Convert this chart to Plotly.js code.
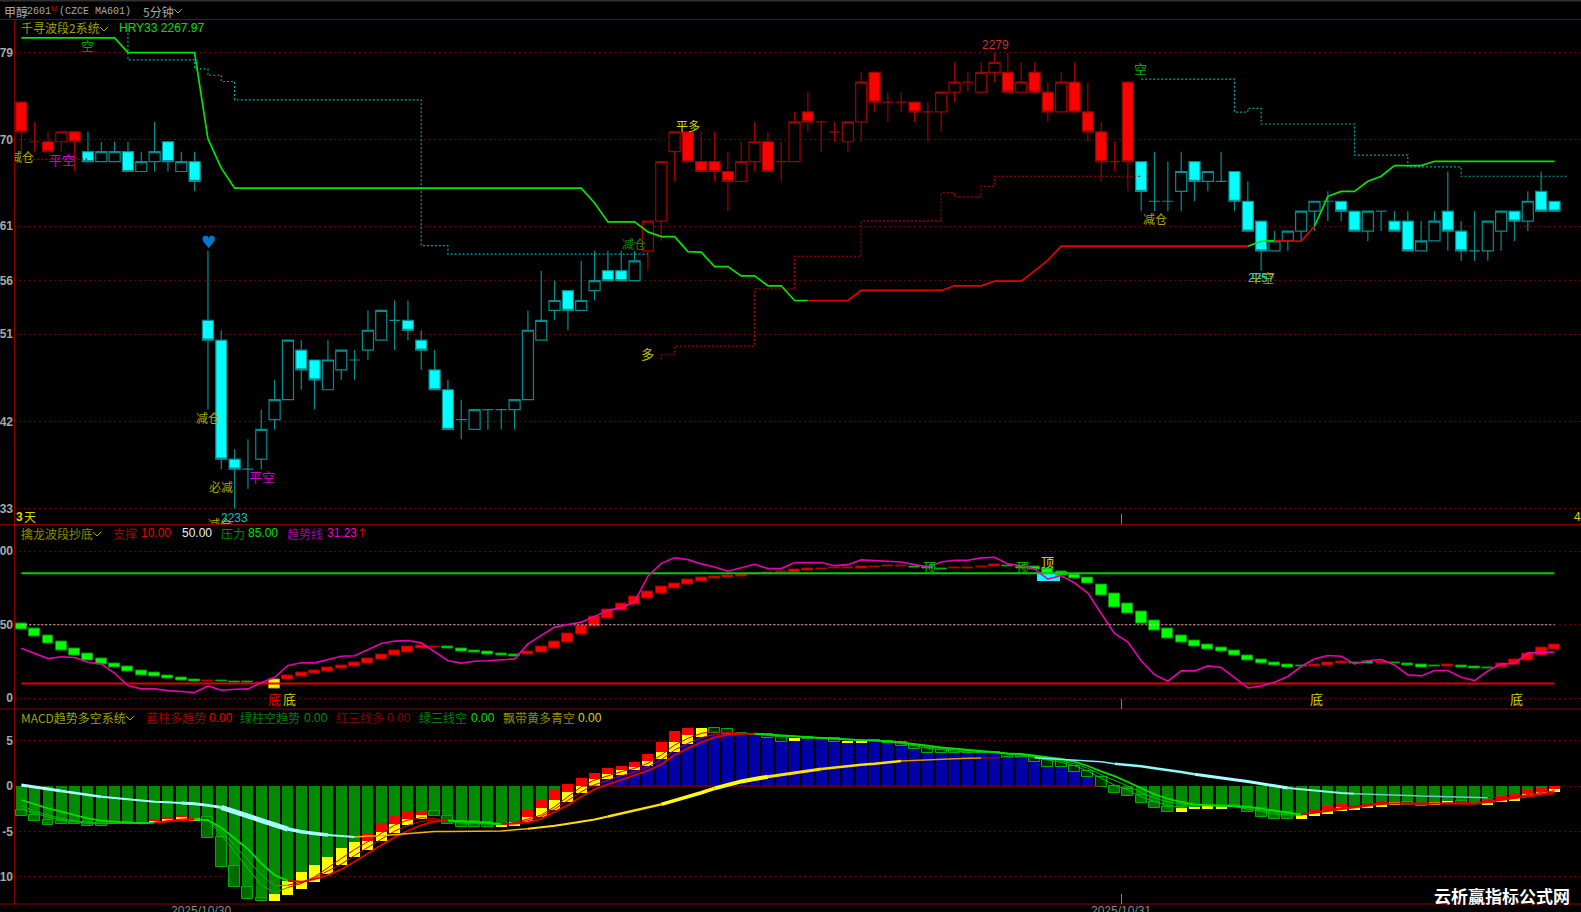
<!DOCTYPE html>
<html><head><meta charset="utf-8">
<style>html,body{margin:0;padding:0;background:#000;overflow:hidden}#c{width:1581px;height:912px}</style>
<script src="https://cdn.plot.ly/plotly-3.0.1.min.js"></script></head>
<body><div id="c"></div>
<script>
// ---------- candles (index 0..115, 5 minute bars) ----------
const open=[2274,2270,2270,2270,2271,2269,2268,2268,2269,2267,2268,2270,2267,2268,2252,2250,2238,2237,2238,2242,2244,2249,2248,2245,2247,2248,2249,2250,2252,2252,2250,2247,2245,2242,2241,2243,2243,2243,2244,2250,2253,2255,2253,2255,2257,2257,2256,2259,2262,2269,2271,2268,2268,2267,2266,2268,2270,2268,2268,2273,2272,2271,2270,2272,2277,2274,2274,2274,2273,2273,2275,2276,2275,2277,2277,2275,2277,2275,2273,2276,2273,2271,2268,2276,2268,2264,2264,2265,2268,2266,2266,2267,2264,2262,2259,2260,2261,2263,2264,2264,2263,2261,2263,2262,2262,2259,2260,2263,2261,2259,2259,2261,2263,2262,2265,2264];
const close=[2271,2270,2269,2271,2270,2268,2269,2269,2267,2268,2269,2268,2268,2266,2250,2238,2237,2237,2241,2244,2250,2247,2246,2248,2249,2248,2251,2253,2252,2251,2249,2245,2241,2242,2243,2243,2243,2244,2251,2252,2254,2253,2254,2256,2256,2256,2258,2262,2268,2271,2268,2267,2267,2266,2268,2270,2267,2268,2272,2272,2272,2271,2272,2276,2274,2274,2274,2273,2273,2275,2276,2276,2277,2278,2275,2276,2275,2273,2276,2273,2271,2268,2268,2268,2265,2264,2264,2267,2266,2267,2266,2264,2261,2259,2260,2261,2263,2264,2264,2263,2261,2263,2263,2261,2259,2260,2262,2261,2259,2259,2262,2263,2262,2264,2263,2263];
const high=[2274,2272,2271,2271,2271,2271,2270,2270,2270,2269,2272,2270,2269,2269,2259,2251,2239,2240,2243,2246,2250,2250,2248,2250,2249,2249,2253,2253,2254,2254,2251,2249,2246,2244,2243,2243,2243,2244,2253,2257,2256,2255,2258,2259,2259,2259,2259,2262,2268,2271,2271,2271,2271,2269,2270,2272,2271,2270,2273,2275,2272,2272,2272,2277,2277,2275,2275,2274,2274,2275,2278,2277,2278,2279,2279,2278,2278,2276,2277,2278,2276,2272,2270,2276,2268,2269,2268,2269,2268,2267,2269,2267,2266,2262,2261,2261,2263,2264,2265,2264,2263,2263,2263,2263,2263,2262,2263,2267,2262,2263,2262,2263,2263,2265,2267,2264];
const low=[2269,2269,2269,2269,2267,2268,2268,2268,2267,2267,2267,2267,2267,2265,2243,2237,2233,2235,2237,2241,2244,2245,2243,2245,2246,2246,2248,2250,2249,2250,2247,2245,2241,2240,2241,2241,2241,2241,2244,2250,2252,2251,2253,2254,2256,2256,2256,2257,2260,2266,2268,2267,2266,2263,2266,2267,2267,2266,2268,2271,2269,2270,2269,2270,2273,2272,2273,2272,2270,2271,2274,2275,2275,2276,2275,2275,2275,2272,2273,2273,2270,2266,2267,2265,2263,2263,2263,2263,2264,2265,2266,2263,2261,2257,2259,2259,2260,2261,2262,2262,2261,2260,2261,2261,2259,2259,2260,2259,2258,2258,2258,2259,2260,2261,2263,2263];
// which candles are in the red regime; all others are cyan
const redCandleRuns=[[0,4],[47,83]];
// ---------- HRY33 trend line ----------
const hry=[2280.46,2280.46,2280.46,2280.46,2280.46,2280.46,2280.46,2280.46,2278.98,2278.98,2278.98,2278.98,2278.98,2278.98,2270.29,2267.34,2265.32,2265.32,2265.32,2265.32,2265.32,2265.32,2265.32,2265.32,2265.32,2265.32,2265.32,2265.32,2265.32,2265.32,2265.32,2265.32,2265.32,2265.32,2265.32,2265.32,2265.32,2265.32,2265.32,2265.32,2265.32,2265.32,2265.32,2263.83,2261.92,2261.92,2261.92,2260.91,2260.44,2260.44,2258.93,2258.87,2257.42,2257.42,2256.48,2256.48,2255.48,2255.48,2254,2254,2254,2254,2254,2255.01,2255.01,2255.01,2255.01,2255.01,2255.01,2255.01,2255.48,2255.48,2255.48,2255.95,2255.95,2255.95,2256.99,2258.06,2259.47,2259.47,2259.47,2259.47,2259.47,2259.47,2259.47,2259.47,2259.47,2259.47,2259.47,2259.47,2259.47,2259.47,2259.47,2259.97,2260.04,2259.97,2259.97,2261.48,2264.5,2265,2265,2266.01,2266.52,2267.59,2267.59,2267.59,2268.03,2268.03,2268.03,2268.03,2268.03,2268.03,2268.03,2268.03,2268.03,2268.03];
const hryRedRuns=[[59,92],[94,97]];
const hryGreenRuns=[[0,59],[92,94],[97,115]];
// ---------- dotted stop lines ----------
const stopCyanA=[2281.4,2278.25,2278.25,2278.25,2278.25,2278.25,2277.34,2276.7,2276.07,2274.22,2274.22,2274.22,2274.22,2274.22,2274.22,2274.22,2274.22,2274.22,2274.22,2274.22,2274.22,2274.22,2274.22,2259.52,2259.52,2258.68,2258.68,2258.68,2258.68,2258.68,2258.68,2258.68,2258.68,2258.68,2258.68,2258.68,2258.68,2258.68,2258.68,2258.68];
const stopCyanAStart=8;
const stopCyanB=[2276.32,2276.32,2276.32,2276.32,2276.32,2276.32,2276.32,2276.32,2272.99,2273.36,2271.79,2271.79,2271.79,2271.79,2271.79,2271.79,2271.79,2268.66,2268.66,2268.66,2268.66,2267.46,2267.46,2267.46,2267.46,2266.52,2266.52,2266.52,2266.52,2266.52,2266.52,2266.52,2266.52];
const stopCyanBStart=84;
const stopRedA=[2268.25,2268.25,2268.25,2268.25,2268.25,2268.25];
const stopRedAStart=0;
const stopRedB=[2248.06,2248.53,2249.4,2249.4,2249.4,2249.4,2249.4,2249.4,2255.17,2255.17,2255.17,2258.46,2258.46,2258.46,2258.46,2258.46,2261.99,2261.99,2261.99,2261.99,2261.99,2261.99,2264.84,2264.44,2264.44,2265.51,2266.52,2266.52,2266.52,2266.52,2266.52,2266.52,2266.52,2266.52,2266.52,2266.52,2266.52];
const stopRedBStart=48;
// ---------- oscillator panel ----------
const rsiHi=[50.7,47.7,43,38.4,34.1,30.2,27.3,23.9,21.6,19.1,17.3,15.2,13.9,12.5,12.3,12,11.6,11.1,10.9,12.5,15.5,17.7,19.1,20.9,22.5,24.5,26.8,30,32.7,35,35.9,35.2,35,34.1,32.7,31.6,30.2,29.8,31.8,35,38.4,43.9,49.8,55.7,60.7,64.8,68.9,72.5,75.7,78.4,80.7,82,83,83.4,84.3,85,85.7,86.1,87.5,88.4,88.4,88.9,88.9,89.3,89.8,90,90,89.8,89.5,88.4,88.9,88.9,89.8,90.7,90.2,89.8,89.3,88,86.1,84.1,82,77.7,71.1,64.5,58.9,53.2,47.7,42.5,39.5,36.8,34.3,32.7,29.3,26.6,24.3,23.2,22.3,23,24.3,24.8,24.5,24.8,24.8,24.3,23.9,23.2,22,22.7,22,21.6,20.9,23.4,26.1,30.2,34.3,36.8];
const rsiLo=[46.8,42,37.3,32.5,28.9,25.5,23.2,20.7,18,15.7,14.8,13.4,12,11.4,11.6,11.4,10.9,10.5,10.2,6.4,12.5,14.5,16.6,18,20,21.6,23.4,26.4,28.9,31.1,33.6,34.5,33.9,31.6,30.9,30,28.9,28.4,29.5,31.1,34.1,38,43.2,48.6,54.3,59.5,63.6,67.7,71.4,74.5,77.5,79.3,81.4,82,82.7,84.3,85.2,85.5,85.7,86.8,87.5,88,88,88.4,88.9,89.3,89.3,89.1,88.2,87.7,88.2,88.2,89.1,89.5,89.5,88.6,87.7,85.2,83.6,81.6,78,69.8,62,57.5,51.1,45.9,40.7,38,35.2,33.4,32,28.9,25.7,23.4,22,21.1,21.4,21.4,22.5,23.4,23.6,23.9,23.9,23.4,22.5,21.1,21.6,21.4,20.7,20,20.2,20.7,22.7,25.5,29.3,33];
const rsiRuns=[['g',14],['r',1],['g',3],['r',1],['y',1],['r',12],['g',6],['r',29],['g',3],['r',4],['g',23],['r',3],['g',2],['r',1],['g',4],['r',1],['g',3],['r',5]];
const rsiTrend=[34.1,30.7,27,28.2,27.7,24.5,23.4,17,8.6,6.4,6.4,5.2,4.3,3.9,8.4,5.5,6.1,6.4,10.5,14.3,22.3,24.1,24.1,26.1,28.6,28.9,33,37.3,38.9,39.3,37.7,31.8,25.5,23.9,25.2,25.5,25.9,26.8,37,42.5,48.4,50.2,51.8,55.7,59.8,61.6,65.5,83,91.8,95.5,94.3,91.4,89.3,86.4,88.6,91.1,88.2,88.2,92.3,92.3,92.3,90.2,90.9,94.1,93.6,92.7,92.7,90.9,89.3,92.7,93.9,93.9,95.5,95.9,91.4,90.2,88,81.1,83.4,78.4,71.6,57.7,44.1,38.2,25.5,16.1,11.6,18.6,18.6,22,20.9,14.1,7,8.4,10.9,14.8,21.6,26.8,29.1,28.6,23.4,25.5,26.4,22.7,15.9,15.2,18.9,18.9,14.3,12,18.6,23.4,23.6,30.9,31.1,31.4];
const rsiMarkIdx=[77.05], rsiMarkHi=[85.2], rsiMarkLo=[80];
const supportLevel=10, midLevel=50, pressureLevel=85;
// ---------- MACD panel ----------
const macdTop=[-2.68,-3.2,-3.75,-3.9,-4.01,-3.93,-3.93,-3.93,-4.01,-3.93,-3.68,-3.42,-3.2,-3.49,-3.38,-5.66,-8.86,-11.1,-12.39,-11.91,-10.44,-9.52,-8.75,-7.87,-6.84,-6.18,-5.15,-4.04,-3.35,-2.9,-2.76,-2.76,-3.31,-3.82,-3.82,-4.01,-4.23,-3.93,-2.68,-1.54,-0.44,0.18,0.85,1.47,1.95,2.21,2.65,3.49,4.82,6.1,6.43,6.43,6.4,6.29,5.88,5.77,5.7,5.37,5.26,5.4,5.26,5.26,5,4.96,5.04,4.96,4.82,4.52,4.23,4.15,4.08,3.86,3.79,3.79,3.53,3.42,3.24,2.87,2.87,2.21,1.65,0.96,0,-0.33,-0.99,-1.73,-2.28,-2.46,-2.28,-2.21,-2.21,-2.1,-2.28,-2.46,-2.76,-2.9,-3.24,-2.54,-2.21,-2.02,-2.1,-1.84,-1.62,-1.76,-1.8,-1.99,-1.76,-1.65,-1.65,-1.84,-1.58,-1.14,-0.88,-0.48,-0.22,-0.04];
const macdBot=[-3.27,-3.82,-4.26,-4.23,-4.19,-4.38,-4.38,-4.23,-4.19,-4.19,-4.01,-3.82,-3.75,-3.82,-5.7,-8.93,-11.14,-12.46,-12.65,-12.65,-11.99,-11.36,-10.63,-9.67,-8.75,-7.87,-7.06,-6.07,-5.15,-4.3,-3.68,-3.31,-4.15,-4.56,-4.56,-4.52,-4.52,-4.38,-4.01,-3.46,-2.65,-1.76,-0.81,0.04,0.74,1.21,1.73,2.24,2.94,3.75,4.63,5.4,5.81,5.74,5.74,5.66,5.26,4.89,4.96,5.15,5.15,4.89,4.78,4.71,4.96,4.71,4.45,4.04,3.68,3.68,3.68,3.68,3.68,3.68,3.16,3.16,2.68,2.06,2.13,1.58,0.96,-0.07,-0.74,-1.07,-1.84,-2.39,-2.83,-2.83,-2.57,-2.54,-2.5,-2.35,-2.83,-3.46,-3.68,-3.64,-3.6,-3.27,-3.05,-2.72,-2.65,-2.46,-2.21,-2.1,-2.1,-2.17,-2.1,-1.95,-1.88,-2.02,-2.06,-1.73,-1.65,-1.25,-0.92,-0.66];
const macdSplit={10:-3.86,11:-3.6,12:-3.46,26:-6.07,27:-5.11,28:-4.23,29:-3.6,30:-3.2,38:-3.46,39:-2.46,40:-1.54,41:-0.66,42:0,43:0.77,44:1.32,45:1.73,46:2.1,47:2.79,48:3.79,49:4.89,50:5.63,97:-2.83,98:-2.61,99:-2.32,100:-2.35,101:-2.17,102:-2.02,110:-1.91,111:-1.54,112:-1.32,113:-0.92,114:-0.7,115:-0.37};
const macdYellowIdx=[9,13,19,20,21,22,23,24,25,36,37,51,58,62,63,87,88,89,90,96,103,106,107];
const macdSlow=[-1.54,-2.02,-2.46,-2.83,-3.2,-3.57,-3.82,-3.97,-4.04,-4.12,-4.04,-3.9,-3.79,-3.71,-3.75,-4.6,-5.77,-6.95,-8.53,-9.82,-10.44,-10.55,-10.26,-9.82,-9.19,-8.35,-7.43,-6.51,-5.66,-4.93,-4.3,-3.93,-3.79,-3.86,-3.93,-4.04,-4.19,-4.15,-4.01,-3.64,-2.83,-2.1,-1.18,-0.37,0.18,0.66,1.14,1.69,2.39,3.42,4.15,4.82,5.37,5.63,5.74,5.77,5.7,5.59,5.51,5.4,5.29,5.22,5.15,5.07,5.04,4.96,4.82,4.67,4.45,4.26,4.12,3.97,3.82,3.71,3.6,3.53,3.35,3.16,2.98,2.68,2.21,1.62,1.1,0.44,-0.26,-0.92,-1.4,-1.76,-2.02,-2.1,-2.13,-2.21,-2.28,-2.5,-2.72,-2.9,-3.13,-2.98,-2.76,-2.54,-2.35,-2.13,-1.99,-1.91,-1.91,-1.91,-1.91,-1.91,-1.91,-1.95,-1.76,-1.54,-1.32,-1.1,-0.92,-0.74];
const macdFast=[-2.17,-2.76,-3.2,-3.57,-3.82,-4.01,-4.08,-4.12,-4.12,-4.12,-4.01,-3.79,-3.64,-3.57,-3.75,-5.4,-7.24,-9.08,-10.92,-11.73,-11.18,-10.74,-10,-9.01,-8.05,-6.99,-6.14,-5.22,-4.3,-3.75,-3.49,-3.57,-3.9,-4.08,-4.12,-4.15,-4.26,-4.01,-3.64,-3.2,-2.28,-1.18,-0.07,0.66,1.14,1.58,1.95,2.5,3.42,4.52,5.26,5.81,5.99,5.92,5.81,5.74,5.55,5.44,5.44,5.37,5.26,5.15,5.07,5.04,5,4.89,4.71,4.45,4.15,3.97,3.86,3.75,3.71,3.68,3.49,3.42,3.13,2.87,2.61,2.24,1.65,0.85,0.11,-0.44,-1.18,-1.73,-2.17,-2.28,-2.17,-2.17,-2.21,-2.28,-2.54,-2.83,-3.09,-3.2,-3.2,-2.9,-2.61,-2.39,-2.21,-1.99,-1.84,-1.91,-1.99,-2.02,-1.95,-1.84,-1.8,-1.91,-1.62,-1.4,-1.18,-0.92,-0.7,-0.51];
const macdMidLine=[-2.54,-3.01,-3.42,-3.75,-3.97,-4.12,-4.12,-4.12,-4.12,-4.12,-4.04,-3.9,-3.75,-3.68,-3.75,-4.96,-6.51,-8.16,-9.82,-10.99,-10.92,-10.63,-10.11,-9.38,-8.6,-7.65,-6.76,-5.85,-4.96,-4.34,-3.9,-3.75,-3.82,-3.97,-4.01,-4.12,-4.23,-4.08,-3.82,-3.38,-2.54,-1.62,-0.63,0.15,0.66,1.14,1.54,2.1,2.9,3.97,4.71,5.33,5.7,5.77,5.77,5.77,5.63,5.51,5.48,5.4,5.29,5.18,5.11,5.07,5.04,4.93,4.78,4.56,4.3,4.12,4.01,3.86,3.79,3.71,3.57,3.49,3.24,3.01,2.79,2.46,1.95,1.25,0.63,0,-0.7,-1.32,-1.76,-2.02,-2.1,-2.13,-2.17,-2.24,-2.39,-2.65,-2.9,-3.05,-3.16,-2.94,-2.68,-2.46,-2.28,-2.06,-1.91,-1.91,-1.95,-1.95,-1.91,-1.88,-1.84,-1.91,-1.69,-1.47,-1.25,-0.99,-0.81,-0.63];
const ribbon=[0.11,-0.07,-0.33,-0.55,-0.77,-0.99,-1.18,-1.32,-1.47,-1.58,-1.73,-1.8,-1.88,-1.95,-2.13,-2.35,-2.83,-3.31,-3.82,-4.3,-4.74,-5.04,-5.22,-5.4,-5.48,-5.63,-5.51,-5.48,-5.37,-5.22,-5.07,-5,-5,-5,-5,-5,-4.96,-4.82,-4.71,-4.56,-4.38,-4.15,-3.93,-3.68,-3.35,-3.01,-2.72,-2.39,-2.02,-1.62,-1.18,-0.74,-0.26,0.18,0.51,0.77,1.03,1.25,1.47,1.69,1.88,2.06,2.21,2.35,2.46,2.61,2.76,2.83,2.94,2.98,3.01,3.05,3.09,3.13,3.16,3.16,3.13,3.05,2.94,2.87,2.79,2.68,2.46,2.32,2.17,1.95,1.76,1.54,1.29,1.07,0.88,0.7,0.51,0.29,0,-0.22,-0.37,-0.55,-0.66,-0.77,-0.85,-0.88,-0.96,-0.99,-1.03,-1.1,-1.14,-1.18,-1.21,-1.25,-1.29,-1.25,-1.18,-1.07,-0.99,-0.85];
// ---------- axis tick labels ----------
const priceTicks=[2279,2270.2,2261.5,2256,2250.6,2241.8,2233], priceTickText=['79','70','61','56','51','42','33'];
const rsiTicks=[100,50,0], rsiTickText=['00','50','0'];
const macdTicks=[5,0,-5,-10], macdTickText=['5','0','-5','10'];

// ---------- page geometry ----------
const W=1581,H=912,L=14,T=20,B=904;
const px=x=>(x-L)/(W-L), py=y=>(B-y)/(B-T);
const idx=n=>Array.from({length:n},(_,i)=>i);
const NUM=open.length;
const inRuns=(i,runs)=>runs.some(r=>i>=r[0]&&i<=r[1]);
const GRID='#6e0000',GDASH='2px,3px';
const traces=[];

// candles
function candleTrace(pick,line,fill){
  const ii=idx(NUM).filter(pick);
  return {type:'candlestick',xaxis:'x',yaxis:'y',x:ii,open:ii.map(i=>open[i]),high:ii.map(i=>high[i]),low:ii.map(i=>low[i]),close:ii.map(i=>close[i]),
    increasing:{line:{color:line,width:1.2},fillcolor:'#000'},decreasing:{line:{color:line,width:1.2},fillcolor:fill},hoverinfo:'skip',showlegend:false};
}
traces.push(candleTrace(i=>inRuns(i,redCandleRuns),'#a00000','#ff0000'));
traces.push(candleTrace(i=>!inRuns(i,redCandleRuns),'#008f8f','#00ffff'));

function seg(vals,start,end,color,width,yaxis,extra){
  const xs=[];for(let i=start;i<=end;i++)xs.push(i);
  return Object.assign({type:'scatter',mode:'lines',x:xs,y:vals.slice(start,end+1),xaxis:'x',yaxis:yaxis,line:{color:color,width:width},hoverinfo:'skip',showlegend:false},extra||{});
}
function stepLine(vals,start,color){
  return {type:'scatter',mode:'lines',x:vals.map((_,i)=>i+start),y:vals,xaxis:'x',yaxis:'y',line:{color:color,width:1.2,shape:'vh',dash:'2px,2px'},hoverinfo:'skip',showlegend:false};
}
traces.push(stepLine(stopCyanA,stopCyanAStart,'#00a8a8'));
traces.push(stepLine(stopCyanB,stopCyanBStart,'#00a8a8'));
traces.push(stepLine(stopRedA,stopRedAStart,'#b00000'));
traces.push(stepLine(stopRedB,stopRedBStart,'#b00000'));
hryGreenRuns.forEach(r=>traces.push(seg(hry,r[0],r[1],'#00e600',1.7,'y')));
hryRedRuns.forEach(r=>traces.push(seg(hry,r[0],r[1],'#e60000',1.7,'y')));

// oscillator panel
const rsiKind=[];rsiRuns.forEach(r=>{for(let k=0;k<r[1];k++)rsiKind.push(r[0]);});
const rsiFill={g:'#00ff00',r:'#ff0000',y:'#ffff00'},rsiEdge={g:'#009000',r:'#a00000',y:'#a0a000'};
traces.push({type:'bar',xaxis:'x',yaxis:'y2',x:rsiMarkIdx,base:rsiMarkLo,y:rsiMarkHi.map((h,i)=>h-rsiMarkLo[i]),width:1.75,marker:{color:'#00ffff',line:{width:0}},hoverinfo:'skip',showlegend:false});
traces.push({type:'bar',xaxis:'x',yaxis:'y2',x:idx(NUM),base:rsiLo,y:rsiHi.map((h,i)=>h-rsiLo[i]),width:0.82,
  marker:{color:rsiKind.map(k=>rsiFill[k]),line:{color:rsiKind.map(k=>rsiEdge[k]),width:1}},hoverinfo:'skip',showlegend:false});
traces.push({type:'scatter',mode:'lines',xaxis:'x',yaxis:'y2',x:[0,NUM-1],y:[pressureLevel,pressureLevel],line:{color:'#00d000',width:2},hoverinfo:'skip',showlegend:false});
traces.push({type:'scatter',mode:'lines',xaxis:'x',yaxis:'y2',x:[0,NUM-1],y:[supportLevel,supportLevel],line:{color:'#e00000',width:2},hoverinfo:'skip',showlegend:false});
traces.push({type:'scatter',mode:'lines',xaxis:'x',yaxis:'y2',x:[0,NUM-1],y:[midLevel,midLevel],line:{color:'#c8c8c8',width:1.2,dash:'2px,2px'},hoverinfo:'skip',showlegend:false});
traces.push(seg(rsiTrend,0,NUM-1,'#e800b0',1.6,'y2'));

// MACD panel
const macdBase=macdTop.map((t,i)=>t<0?t:(macdBot[i]>0?macdBot[i]:0));
traces.push({type:'bar',xaxis:'x',yaxis:'y3',x:idx(NUM),y:macdBase,width:0.82,marker:{color:macdBase.map((v,i)=>macdTop[i]<0?'#008a00':'#0000a8'),line:{width:0}},hoverinfo:'skip',showlegend:false});
traces.push({type:'scatter',mode:'lines',xaxis:'x',yaxis:'y3',x:[42,81],y:[0,0],line:{color:'#900000',width:1},hoverinfo:'skip',showlegend:false});
const isRed=i=>macdSplit[i]!==undefined, isYel=i=>macdYellowIdx.includes(i);
const gIdx=idx(NUM).filter(i=>!isRed(i)&&!isYel(i));
traces.push({type:'bar',xaxis:'x',yaxis:'y3',x:gIdx,base:gIdx.map(i=>macdBot[i]),y:gIdx.map(i=>macdTop[i]-macdBot[i]),width:0.82,
  marker:{color:gIdx.map(i=>macdTop[i]>0?'#002a00':'#006c00'),line:{color:'#00b000',width:1}},hoverinfo:'skip',showlegend:false});
const rIdx=idx(NUM).filter(isRed);
traces.push({type:'bar',xaxis:'x',yaxis:'y3',x:rIdx,base:rIdx.map(i=>macdSplit[i]),y:rIdx.map(i=>macdTop[i]-macdSplit[i]),width:0.82,marker:{color:'#ff0000',line:{width:0}},hoverinfo:'skip',showlegend:false});
const yIdx=idx(NUM).filter(i=>isRed(i)||isYel(i));
traces.push({type:'bar',xaxis:'x',yaxis:'y3',x:yIdx,base:yIdx.map(i=>macdBot[i]),y:yIdx.map(i=>(isRed(i)?macdSplit[i]:macdTop[i])-macdBot[i]),width:0.82,marker:{color:'#ffff00',line:{width:0}},hoverinfo:'skip',showlegend:false});

const macdColorRuns=[[0,10,'#00e000'],[10,13,'#e00000'],[13,20,'#00e000'],[20,32,'#e00000'],[32,36,'#00e000'],[36,55,'#e00000'],[55,96,'#00e000'],[96,115,'#e00000']];
macdColorRuns.forEach(r=>{
  traces.push(seg(macdFast,r[0],r[1],r[2]==='#00e000'?'#00c000':'#d00000',1,'y3'));
  traces.push(seg(macdMidLine,r[0],r[1],r[2]==='#00e000'?'#00c000':'#d00000',1,'y3'));
  traces.push(seg(macdSlow,r[0],r[1],r[2],1.8,'y3'));
});
const ribbonSegs=[[0,3,'#a8ffff',3],[3,6,'#a8ffff',2.5],[6,12,'#a8ffff',2],[12,15,'#a8ffff',3],[15,20,'#a8ffff',5],[20,23,'#a8ffff',3.5],[23,25,'#a8ffff',2],[25,38,'#ffb000',1.5],[38,44,'#ffe000',2],[44,48,'#ffe000',2.5],[48,52,'#ffff00',3.5],[52,56,'#ffff00',4],[56,60,'#ffe000',3],[60,66,'#ffe000',2.5],[66,72,'#e09000',1.5],[72,76,'#c00000',1],[76,82,'#80f0f0',1.5],[82,88,'#90f8f8',2.5],[88,95,'#a8ffff',3],[95,100,'#90f0f0',2],[100,110,'#70c8c8',1.5],[110,115,'#d00000',1]];
ribbonSegs.forEach(r=>traces.push(seg(ribbon,r[0],r[1],r[2],r[3],'y3')));

// labels that the panels clip at their edges
const clipFont=c=>({family:'Noto Sans CJK SC',size:12,color:c});
traces.push({type:'scatter',mode:'text',xaxis:'x',yaxis:'y',x:[14.9],y:[2231.9],text:['减仓'],textposition:'bottom center',textfont:clipFont('#b0b000'),hoverinfo:'skip',showlegend:false});
traces.push({type:'scatter',mode:'text',xaxis:'x',yaxis:'y',x:[0.05],y:[2268.25],text:['减仓'],textposition:'middle center',textfont:clipFont('#a8a800'),hoverinfo:'skip',showlegend:false});

// ---------- texts ----------
const annos=[];
function txt(t,x,y,color,size,anchor,family,bold){
  annos.push({text:bold?'<b>'+t+'</b>':t,xref:'paper',yref:'paper',x:px(x),y:py(y),xanchor:anchor||'left',yanchor:'middle',showarrow:false,borderpad:0,font:{family:family||'Noto Sans CJK SC, Liberation Sans',size:size||12,color:color}});
}
const SANS='Liberation Sans',MONO='Liberation Mono';
// title bar
txt('甲醇',3,11,'#a8a8a8',12);
txt('2601',26,11,'#a8a8a8',10,'left',MONO);
txt('M',50,8,'#c00000',8,'left',SANS);
txt('(CZCE MA601)',58,11,'#a8a8a8',10,'left',MONO);
txt('5分钟',142,11,'#a8a8a8',12);
// price panel legend
txt('千寻波段2系统',20,28,'#a0a000',12);
txt('HRY33 2267.97',118,28,'#00e000',12,'left',SANS);
// oscillator legend
txt('擒龙波段抄底',20,533,'#8c8c00',12);
txt('支撑',112,533,'#a00000',12);txt('10.00',139.6,533,'#f00000',12,'left',SANS);
txt('50.00',181,533,'#f0f0f0',12,'left',SANS);
txt('压力',220,533,'#008c00',12);txt('85.00',247,533,'#00e000',12,'left',SANS);
txt('趋势线',286,533,'#a000a0',12);txt('31.23',325.6,533,'#f000c0',12,'left',SANS);txt('↑',356,533,'#d00000',12,'left','DejaVu Sans');
// MACD legend
const MY=717.7;
txt('MACD趋势多空系统',20,MY,'#a0a000',12);
txt('蓝柱多趋势',144.7,MY,'#a00000',12);txt('0.00',207.6,MY,'#f00000',12,'left',SANS);
txt('绿柱空趋势',238.7,MY,'#008000',12);txt('0.00',302.6,MY,'#009000',12,'left',SANS);
txt('红三线多',334.7,MY,'#800000',12);txt('0.00',386,MY,'#900000',12,'left',SANS);
txt('绿三线空',418,MY,'#008000',12);txt('0.00',469.6,MY,'#00e000',12,'left',SANS);
txt('飘带黄多青空',501.7,MY,'#909000',12);txt('0.00',576.8,MY,'#d8d800',12,'left',SANS);
// price signals
txt('空',87,45,'#00a000',13,'center');
txt('平空',61.5,159,'#d000d0',13,'center');
txt('♥',208,242,'#0078d0',17,'center','DejaVu Sans');
txt('减仓',207.6,418,'#a8a800',12,'center');
txt('必减',221.4,486,'#a8a800',12,'center');
txt('平空',262,477,'#d000d0',13,'center');
txt('2233',234.6,518,'#00c8c8',12,'center',SANS);
txt('平多',687.7,125,'#d8d800',12,'center');
txt('2279',995,45,'#c83030',12,'center',SANS);
txt('减仓',634,243,'#008c00',12,'center');
txt('多',647.4,353,'#c0c000',13,'center');
txt('空',1140.8,68.5,'#00b000',13,'center');
txt('减仓',1155,219,'#a8a800',12,'center');
txt('平空',1261.7,278,'#a8a800',12,'center');
txt('2257',1261.7,278,'#00d8d8',12,'center',SANS);
// oscillator signals
txt('底',274.5,698,'#e00000',13,'center');
txt('底',289,698,'#d0d000',13,'center');
txt('顶',929,566,'#00b000',13,'center');
txt('顶',1022.7,566,'#00b000',13,'center');
txt('顶',1047.4,561,'#d0d000',13,'center');
txt('底',1316,698,'#d0d000',13,'center');
txt('底',1516,698,'#d0d000',13,'center');
// edge notes
txt('3',15,516.5,'#d8d800',12,'left',SANS,true);
txt('天',23,516.5,'#d8d800',12);
txt('4',1573,516.5,'#d8d800',12,'left',SANS);
txt('2025/10/30',201,911,'#8a8a8a',12,'center',SANS);
txt('2025/10/31',1121,911,'#8a8a8a',12,'center',SANS);
txt('云析赢指标公式网',1502,895,'#ffffff',17,'center','Noto Sans CJK SC',true);

// ---------- frame ----------
const shapes=[];
function hline(y,color,w){shapes.push({type:'line',xref:'paper',yref:'paper',x0:px(0),x1:px(W),y0:py(y),y1:py(y),line:{color:color,width:w||1}});}
function vline(x,y0,y1,color,w){shapes.push({type:'line',xref:'paper',yref:'paper',x0:px(x),x1:px(x),y0:py(y0),y1:py(y1),line:{color:color,width:w||1}});}
function chevron(x,y,color){shapes.push({type:'path',xref:'paper',yref:'paper',path:`M ${px(x-4)} ${py(y-2)} L ${px(x)} ${py(y+2)} L ${px(x+4)} ${py(y-2)}`,line:{color:color,width:1}});}
hline(0.5,'#303030',2);
hline(19.5,'#8a0000');hline(524.5,'#8a0000');hline(709,'#8a0000');hline(904,'#8a0000');
vline(14.5,20,904,'#8a0000');
[[514,524],[699,709],[894,904]].forEach(r=>vline(1121.5,r[0],r[1],'#808080'));
chevron(178,11,'#a8a8a8');chevron(104,29,'#b0b000');chevron(97,534,'#b0b000');chevron(130,718,'#b0b000');

const dom=y=>(B-y)/(B-T);
const tickFont={family:SANS,size:12,color:'#a8a8a8',weight:700};
const yBase={showline:false,zeroline:false,ticks:'',showgrid:true,gridcolor:GRID,griddash:GDASH,gridwidth:1,tickfont:tickFont,tickmode:'array',fixedrange:true,ticklabelposition:'outside',automargin:false};
const layout={width:W,height:H,margin:{l:L,r:0,t:T,b:H-B,pad:0},paper_bgcolor:'#000',plot_bgcolor:'#000',showlegend:false,barmode:'overlay',boxgap:0.17,boxgroupgap:0,boxmode:'overlay',bargap:0,
  xaxis:{domain:[0,1],range:[-0.5476,116.99],type:'linear',showgrid:false,zeroline:false,showticklabels:false,ticks:'',anchor:'y3',rangeslider:{visible:false},fixedrange:true},
  yaxis:Object.assign({},yBase,{domain:[dom(524.5),1],range:[2231.42,2282.27],tickvals:priceTicks,ticktext:priceTickText}),
  yaxis2:Object.assign({},yBase,{domain:[dom(709),dom(524.5)],range:[-7.3,118.2],tickvals:rsiTicks,ticktext:rsiTickText}),
  yaxis3:Object.assign({},yBase,{domain:[0,dom(709)],range:[-13,8.49],tickvals:macdTicks,ticktext:macdTickText}),
  annotations:annos,shapes:shapes};
Plotly.newPlot('c',traces,layout,{displayModeBar:false,responsive:false});
</script></body></html>
